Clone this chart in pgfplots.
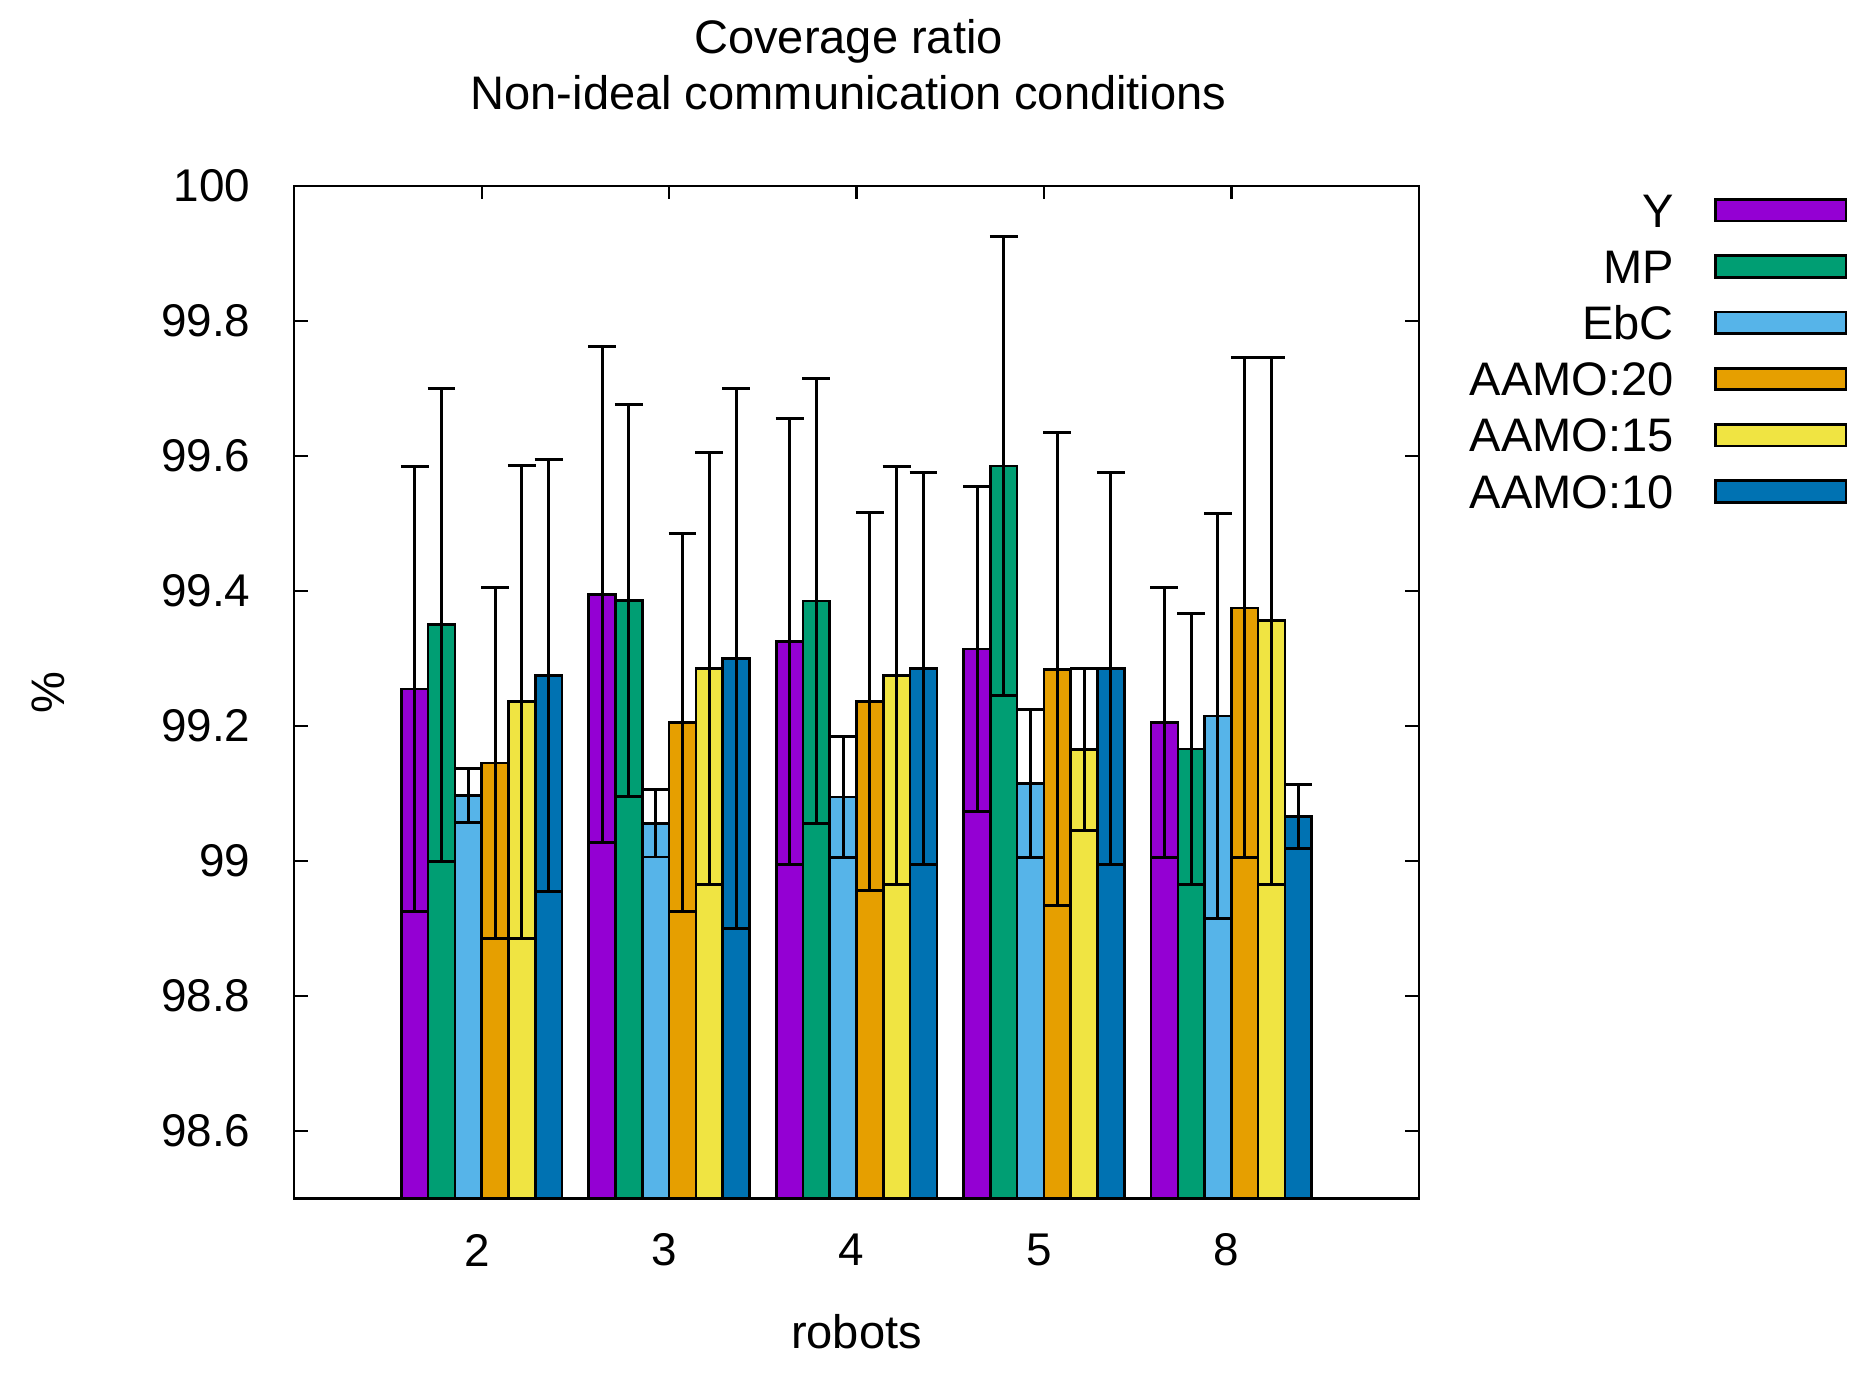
\documentclass[border=0pt]{standalone}
\usepackage{fontspec}
\setmainfont{Liberation Sans}
\usepackage{pgfplots}
\pgfplotsset{compat=1.18}
\usepackage{pgfplotstable}

\definecolor{cY}{HTML}{9400D3}
\definecolor{cMP}{HTML}{009E73}
\definecolor{cEbC}{HTML}{56B4E9}
\definecolor{cA20}{HTML}{E69F00}
\definecolor{cA15}{HTML}{F0E442}
\definecolor{cA10}{HTML}{0072B2}

\newcommand{\fs}{\fontsize{11.8}{14}\selectfont}
\newcommand{\fst}{\fontsize{11.5}{13.8}\selectfont}

% mean and error (+/-) per robot count
\pgfplotstableread{
x Y      Ye    MP     MPe  EbC    EbCe A20    A20e A15    A15e A10    A10e
0 99.255 0.33  99.350 0.35 99.097 0.04 99.145 0.26 99.236 0.35 99.275 0.32
1 99.395 0.367 99.386 0.29 99.056 0.05 99.205 0.28 99.285 0.32 99.300 0.40
2 99.325 0.33  99.385 0.33 99.095 0.09 99.236 0.28 99.275 0.31 99.285 0.29
3 99.314 0.24  99.585 0.34 99.115 0.11 99.284 0.35 99.165 0.12 99.285 0.29
4 99.205 0.20  99.166 0.20 99.215 0.30 99.375 0.37 99.356 0.39 99.066 0.047
}\coverage

\pgfplotsset{
  boxlegend/.style={
    legend image code/.code={%
      \path (0pt,0pt);
      \draw[##1, line width=0.65pt] (10.2pt,-2.7pt) rectangle (42.9pt,2.7pt);
    }
  },
  errs/.style={
    error bars/.cd,
      y dir=both, y explicit,
      error mark=|,
      error bar style={black, line width=0.75pt},
      error mark options={black, line width=0.75pt, mark size=3.5pt},
  },
}

\begin{document}
\begin{tikzpicture}
\useasboundingbox (-73.8pt,-44.25pt) rectangle (393.9pt,300.6pt);
\begin{axis}[
  at={(0pt,0pt)}, anchor=south west,
  scale only axis, width=282pt, height=254pt,
  xmin=-1, xmax=5, ymin=98.5, ymax=100,
  y coord trafo/.code={\pgfmathparse{#1-98.5}},
  y coord inv trafo/.code={\pgfmathparse{#1+98.5}},
  ybar=0pt, bar width=0.142857,
  every axis plot post/.append style={boxlegend},
  xtick={0,1,2,3,4}, xticklabels={2,3,4,5,8},
  ytick={98.6,98.8,99,99.2,99.4,99.6,99.8,100},
  yticklabels={98.6,98.8,99,99.2,99.4,99.6,99.8,100},
  tick align=inside, major tick length=3.4pt,
  tick style={black, line width=0.6pt},
  axis line style={line width=0.6pt},
  tick label style={font=\fst},
  xticklabel style={anchor=center, inner sep=0pt, yshift=-12.9pt, xshift=-1.2pt},
  yticklabel style={anchor=east, inner sep=0pt, xshift=-10.8pt},
  title={Coverage ratio\\Non-ideal communication conditions},
  title style={font=\fs, align=center, at={(axis description cs:0.5,1)},
    anchor=south, inner sep=0pt, yshift=12.9pt, xshift=-2pt},
  xlabel={robots},
  xlabel style={font=\fs, at={(axis description cs:0.5,0)}, anchor=center,
    inner sep=0pt, yshift=-33.3pt},
  ylabel={\%},
  ylabel style={font=\fs, at={(axis description cs:0,0.5)}, anchor=center,
    inner sep=0pt, yshift=61.8pt},
  legend plot pos=right,
  legend cell align=right,
  legend style={draw=none, fill=none, at={(1,1)}, anchor=north east,
    xshift=107.7pt, yshift=-1.75pt, inner sep=0pt, row sep=5.7pt,
    column sep=0pt, font=\fs,
    nodes={inner sep=0pt, text height=8.4pt, text depth=0pt}},
]
\addplot[fill=cY, draw=black, line width=0.65pt, errs]
  table[x=x, y=Y, y error=Ye] {\coverage};
\addlegendentry{Y}
\addplot[fill=cMP, draw=black, line width=0.65pt, errs]
  table[x=x, y=MP, y error=MPe] {\coverage};
\addlegendentry{MP}
\addplot[fill=cEbC, draw=black, line width=0.65pt, errs]
  table[x=x, y=EbC, y error=EbCe] {\coverage};
\addlegendentry{EbC}
\addplot[fill=cA20, draw=black, line width=0.65pt, errs]
  table[x=x, y=A20, y error=A20e] {\coverage};
\addlegendentry{AAMO:20}
\addplot[fill=cA15, draw=black, line width=0.65pt, errs]
  table[x=x, y=A15, y error=A15e] {\coverage};
\addlegendentry{AAMO:15}
\addplot[fill=cA10, draw=black, line width=0.65pt, errs]
  table[x=x, y=A10, y error=A10e] {\coverage};
\addlegendentry{AAMO:10}
\end{axis}
\end{tikzpicture}
\end{document}
